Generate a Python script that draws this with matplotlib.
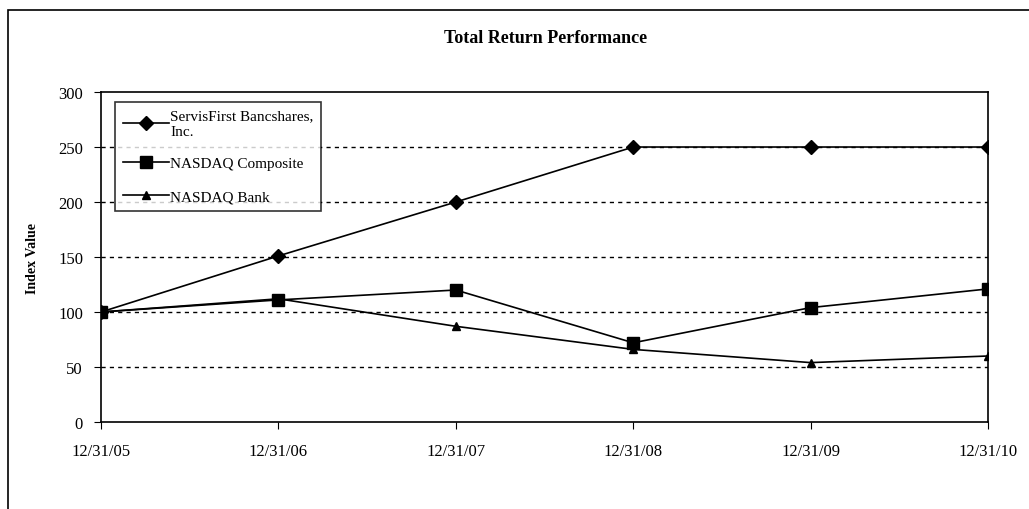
import matplotlib.pyplot as plt
from matplotlib.patches import Rectangle

dates = ["12/31/05", "12/31/06", "12/31/07", "12/31/08", "12/31/09", "12/31/10"]
servisfirst = [100, 151, 200, 250, 250, 250]
nasdaq_comp = [100, 111, 120, 72, 104, 121]
nasdaq_bank = [100, 112, 87, 66, 54, 60]

plt.rcParams['font.family'] = ['Liberation Serif', 'DejaVu Serif']

fig = plt.figure(figsize=(10.29, 5.10), dpi=100)
ax = fig.add_axes([0.0982, 0.1706, 0.862, 0.647])

x = range(len(dates))
ax.plot(x, servisfirst, color="black", lw=1.2, marker="D", ms=7, label="ServisFirst Bancshares,\nInc.")
ax.plot(x, nasdaq_comp, color="black", lw=1.2, marker="s", ms=9, label="NASDAQ Composite")
ax.plot(x, nasdaq_bank, color="black", lw=1.2, marker="^", ms=6, label="NASDAQ Bank")

ax.set_xlim(0, 5)
ax.set_ylim(0, 300)
ax.set_yticks(range(0, 301, 50))
ax.set_xticks(list(x))
ax.set_xticklabels(dates)
ax.tick_params(labelsize=12, length=5, color="black", pad=8)
ax.tick_params(axis="x", pad=10)

for yv in range(50, 300, 50):
    ax.axhline(yv, color="black", lw=1, ls=(0, (3, 3)), zorder=0)

for s in ax.spines.values():
    s.set_color("black")
    s.set_linewidth(1.2)

ax.set_ylabel("Index Value", fontsize=10, fontweight="bold", labelpad=14)
fig.text(0.53, 0.925, "Total Return Performance", ha="center", va="center",
         fontsize=13, fontweight="bold")

leg = ax.legend(loc="upper left", bbox_to_anchor=(0.016, 0.97), fontsize=11,
                frameon=True, fancybox=False, edgecolor="black", handlelength=3,
                borderpad=0.5, labelspacing=1.25, handletextpad=0.1,
                borderaxespad=0.0)
leg.get_frame().set_linewidth(1.2)

# outer chart frame
fig.patches.append(Rectangle((0.008, -0.05), 1.1, 1.028, transform=fig.transFigure,
                             fill=False, edgecolor="black", lw=1.2))

fig.savefig("out.png", dpi=100)
